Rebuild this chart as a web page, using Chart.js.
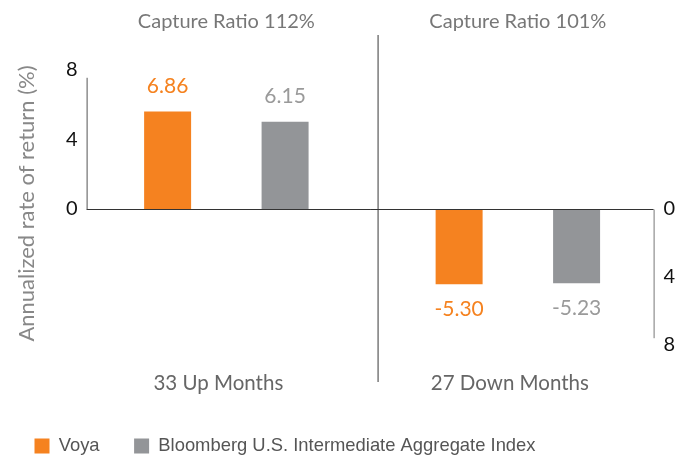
<!DOCTYPE html>
<html>
<head>
<meta charset="utf-8">
<script src="https://cdn.jsdelivr.net/npm/chart.js@4/dist/chart.umd.min.js"></script>
<style>
  html, body { margin: 0; padding: 0; background: #fff; }
  #wrap { width: 683px; height: 455px; position: relative; }
</style>
</head>
<body>
<div id="wrap"><canvas id="c"></canvas></div>
<script>
const CATEGORIES  = ['33 Up Months', '27 Down Months'];
const CAPTURE     = ['Capture Ratio 112%', 'Capture Ratio 101%'];
const VOYA        = [6.86, -5.30];
const BLOOMBERG   = [6.15, -5.23];
const LEFT_TICKS  = [0, 4, 8];
const RIGHT_TICKS = [0, 4, 8];

const ORANGE = '#F58220';
const GREY   = '#939598';
const FONT   = 'Lato, "Open Sans", sans-serif';

// divider, zero line, the two short axis lines and the value labels
const decor = {
  id: 'decor',
  afterDatasetsDraw(chart) {
    const { ctx, chartArea: ca, scales } = chart;
    const yL = scales.yL, yR = scales.yR, y = scales.y, x = scales.x;
    const xl = ca.left + 6, xr = ca.right - 10;
    const y0 = Math.round(y.getPixelForValue(0)) + 0.5;
    const xd = (x.getPixelForTick(0) + x.getPixelForTick(1)) / 2 + 6;
    ctx.save();
    ctx.lineWidth = 1.5;
    ctx.strokeStyle = '#7a7a7a';
    ctx.beginPath(); ctx.moveTo(xd, ca.top); ctx.lineTo(xd, ca.bottom + 10); ctx.stroke();
    ctx.lineWidth = 1;
    ctx.strokeStyle = '#333';
    ctx.beginPath(); ctx.moveTo(xl, y0); ctx.lineTo(xr, y0); ctx.stroke();
    ctx.strokeStyle = '#555';
    ctx.beginPath(); ctx.moveTo(xl + 0.5, y0); ctx.lineTo(xl + 0.5, yL.getPixelForValue(8) + 8); ctx.stroke();
    ctx.strokeStyle = '#777';
    ctx.beginPath(); ctx.moveTo(xr + 0.5, y0); ctx.lineTo(xr + 0.5, yR.getPixelForValue(8) - 6); ctx.stroke();

    ctx.font = '21px ' + FONT;
    ctx.textAlign = 'center';
    ctx.textBaseline = 'middle';
    chart.data.datasets.forEach((ds, di) => {
      chart.getDatasetMeta(di).data.forEach((bar, i) => {
        const v = ds.data[i];
        ctx.fillStyle = ds.labelColor;
        ctx.fillText(v.toFixed(2), bar.x, v >= 0 ? bar.y - 25 : bar.y + 25);
      });
    });
    ctx.restore();
  }
};

new Chart(document.getElementById('c'), {
  type: 'bar',
  data: {
    labels: CATEGORIES,
    datasets: [
      { label: 'Voya', data: VOYA, backgroundColor: ORANGE, borderWidth: 0, labelColor: '#F5821F',
        categoryPercentage: 0.806, barPercentage: 0.40 },
      { label: 'Bloomberg U.S. Intermediate Aggregate Index', data: BLOOMBERG, backgroundColor: GREY,
        borderWidth: 0, labelColor: '#9a9a9a', categoryPercentage: 0.806, barPercentage: 0.40 }
    ]
  },
  options: {
    responsive: true, maintainAspectRatio: false,
    animation: false,
    layout: { padding: { left: 0, right: 0, top: 0, bottom: -10.2 } },
    plugins: {
      tooltip: { enabled: false },
      legend: {
        position: 'bottom', align: 'start',
        labels: {
          boxWidth: 15, boxHeight: 15, padding: 34.5,
          color: '#555',
          font: { family: '"Liberation Sans", Arial, sans-serif', size: 18.4 }
        }
      }
    },
    scales: {
      x: {
        type: 'category', position: 'bottom', offset: true,
        grid: { display: false, drawTicks: true, tickLength: 10 },
        border: { display: false },
        ticks: { color: '#666', padding: -11.3, labelOffset: -8, maxRotation: 0, autoSkip: false,
                 font: { family: FONT, size: 20.5 } },
        afterFit: s => { s.height = 30.3; }
      },
      xTop: {
        type: 'category', position: 'top', labels: CAPTURE, offset: true,
        grid: { display: false, drawTicks: false },
        border: { display: false },
        ticks: { color: '#777', padding: 1, maxRotation: 0, autoSkip: false,
                 font: { family: FONT, size: 20 } },
        afterFit: s => { s.height = 35; }
      },
      y: {
        display: false, min: -11.48, max: 12.25
      },
      yL: {
        type: 'linear', position: 'left', min: -9.37, max: 10,
        grid: { display: false, drawTicks: false },
        border: { display: false },
        afterBuildTicks: s => { s.ticks = LEFT_TICKS.map(v => ({ value: v })); },
        ticks: { color: '#111', padding: 3, font: { family: FONT, size: 20 }, callback: v => String(v) },
        title: { display: true, text: 'Annualized rate of return (%)', color: '#888',
                 font: { family: FONT, size: 22 }, padding: { top: 13.8, bottom: 0 } },
        afterFit: s => { s.width = 80.6; }
      },
      yR: {
        type: 'linear', position: 'right', reverse: true, min: -10.3, max: 9.645,
        grid: { display: false, drawTicks: false },
        border: { display: false },
        afterBuildTicks: s => { s.ticks = RIGHT_TICKS.map(v => ({ value: v })); },
        ticks: { color: '#111', padding: 0, font: { family: FONT, size: 20 }, callback: v => String(v) },
        afterFit: s => { s.width = 19.4; }
      }
    }
  },
  plugins: [decor]
});
</script>
</body>
</html>
